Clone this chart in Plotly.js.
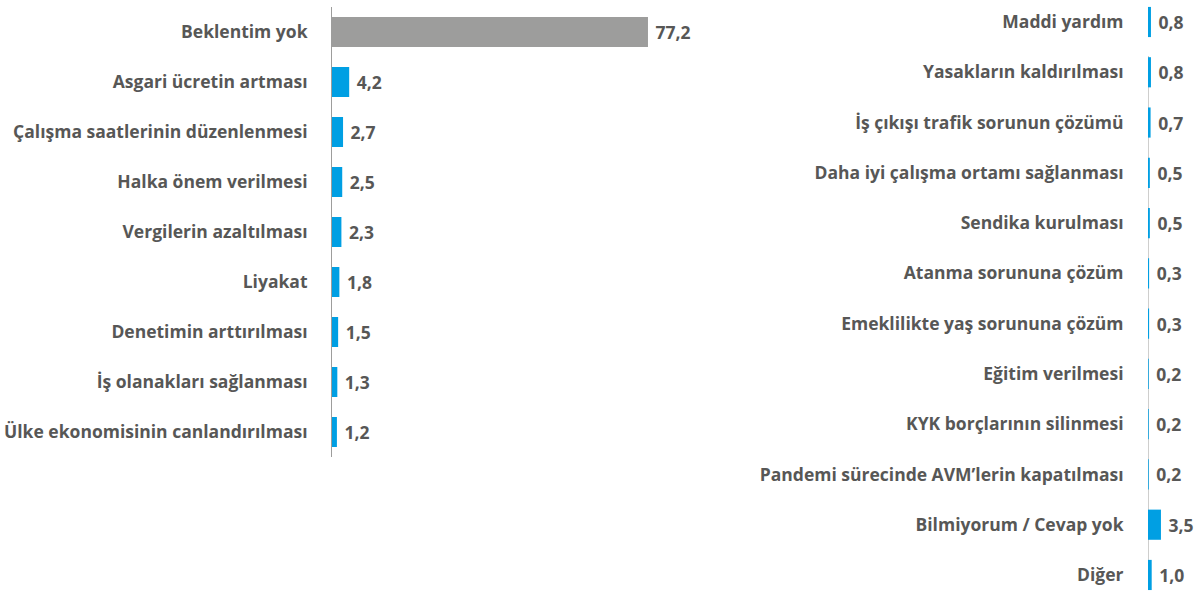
<!DOCTYPE html>
<html><head><meta charset="utf-8">
<script src="https://cdn.plot.ly/plotly-3.0.1.min.js"></script>
<style>html,body{margin:0;padding:0;background:#fff}#c{width:1204px;height:593px}</style>
</head><body><div id="c"></div>
<script>
const leftCats = ["Beklentim yok","Asgari ücretin artması","Çalışma saatlerinin düzenlenmesi","Halka önem verilmesi","Vergilerin azaltılması","Liyakat","Denetimin arttırılması","İş olanakları sağlanması","Ülke ekonomisinin canlandırılması"];
const leftVals = [77.2,4.2,2.7,2.5,2.3,1.8,1.5,1.3,1.2];
const rightCats = ["Maddi yardım","Yasakların kaldırılması","İş çıkışı trafik sorunun çözümü","Daha iyi çalışma ortamı sağlanması","Sendika kurulması","Atanma sorununa çözüm","Emeklilikte yaş sorununa çözüm","Eğitim verilmesi","KYK borçlarının silinmesi","Pandemi sürecinde AVM’lerin kapatılması","Bilmiyorum / Cevap yok","Diğer"];
const rightVals = [0.8,0.8,0.7,0.5,0.5,0.3,0.3,0.2,0.2,0.2,3.5,1.0];

const GRAY = "#9d9d9c", BLUE = "#009fe3", TXT = "#575756";
const FONT = "'Open Sans', sans-serif";
const FS = 17.5;
const leftColors = leftCats.map((c,i)=> i===0 ? GRAY : BLUE);
const GAP = "\u00a0";

const traces = [
  {type:"bar", orientation:"h", y:leftCats, x:leftVals, xaxis:"x", yaxis:"y",
   marker:{color:leftColors}, width:0.6,
   texttemplate:GAP+"%{x:.1f}", textposition:"outside", cliponaxis:false,
   textfont:{family:FONT, size:FS, color:TXT, weight:"bold"}, hoverinfo:"skip"},
  {type:"bar", orientation:"h", y:rightCats, x:rightVals, xaxis:"x2", yaxis:"y2",
   marker:{color:BLUE}, width:0.6,
   texttemplate:GAP+"%{x:.1f}", textposition:"outside", cliponaxis:false,
   textfont:{family:FONT, size:FS, color:TXT, weight:"bold"}, hoverinfo:"skip"}
];

const W=1204, H=593;
const tickFont = {family:FONT, size:FS, color:TXT, weight:"bold"};
const layout = {
  width:W, height:H, margin:{l:0,r:0,t:0,b:0},
  paper_bgcolor:"#fff", plot_bgcolor:"rgba(0,0,0,0)",
  separators:",.", showlegend:false, bargap:0.4,
  font:{family:FONT, color:TXT},
  xaxis:{domain:[332/W, 720/W], range:[0,(720-332)/4.093], visible:false, fixedrange:true},
  yaxis:{domain:[(H-457)/H,(H-7)/H], range:[8.5,-0.5], type:"category",
         showline:true, linecolor:GRAY, linewidth:1, showgrid:false, zeroline:false,
         ticks:"outside", ticklen:20, tickcolor:"rgba(0,0,0,0)", tickfont:tickFont, anchor:"x"},
  xaxis2:{domain:[1148/W, 1], range:[0,56/3.7], visible:false, fixedrange:true},
  yaxis2:{domain:[0,1], range:[(H-22)/50.27,-22/50.27], type:"category",
          showline:false, showgrid:false, zeroline:false,
          ticks:"outside", ticklen:20, tickcolor:"rgba(0,0,0,0)", tickfont:tickFont, anchor:"x2"},
  shapes:[{type:"line", xref:"x2", yref:"paper", x0:0, x1:0, y0:(H-56)/H, y1:(H-590)/H,
           line:{color:GRAY, width:1}, layer:"below"}]
};
Plotly.newPlot("c", traces, layout, {displayModeBar:false, staticPlot:true});
</script></body></html>
